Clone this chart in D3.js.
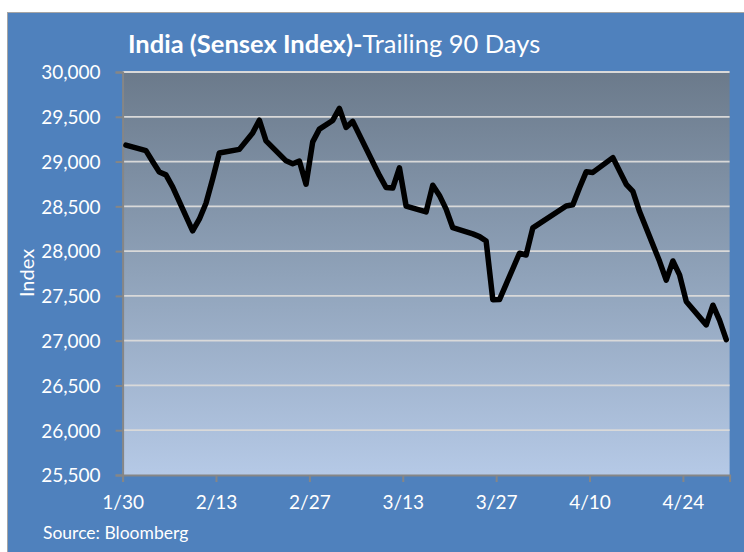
<!DOCTYPE html>
<html><head><meta charset="utf-8">
<script src="https://cdn.jsdelivr.net/npm/d3@7"></script>
<style>
html,body{margin:0;padding:0;background:#fff;}
svg{display:block;}
</style></head>
<body>
<svg id="c" width="744" height="552"></svg>
<script>
// ---- data ----
const dates = ["1/30","2/2","2/3","2/4","2/5","2/6","2/9","2/10","2/11","2/12","2/13","2/16","2/18","2/19","2/20",
"2/23","2/24","2/25","2/26","2/27","2/28","3/2","3/3","3/4","3/5","3/9","3/10","3/11","3/12","3/13",
"3/16","3/17","3/18","3/19","3/20","3/23","3/24","3/25","3/26","3/27","3/30","3/31","4/1",
"4/6","4/7","4/8","4/9","4/10","4/13","4/15","4/16","4/17","4/20","4/21","4/22","4/23","4/24",
"4/27","4/28","4/29","4/30"];
const values = [29183,29122,29000,28883,28851,28718,28227,28356,28534,28805,29095,29136,29320,29462,29231,
29008,28975,29005,28747,29220,29362,29459,29594,29381,29449,28845,28710,28704,28930,28503,
28438,28736,28622,28469,28261,28192,28162,28112,27458,27459,27976,27957,28260,
28504,28517,28708,28885,28879,29044,28746,28666,28442,27886,27676,27890,27734,27438,
27176,27396,27226,27011];
const xTickLabels = ["1/30","2/13","2/27","3/13","3/27","4/10","4/24"];
const yTicks = [25500,26000,26500,27000,27500,28000,28500,29000,29500,30000];
const year = 2015;
const axisStart = "1/30", axisEnd = "5/1";

// ---- layout ----
const parse = s => d3.timeParse("%m/%d/%Y")(s + "/" + year);
const L = 122.6, R = 729.6, T = 72, B = 475;
const FONT = "Lato, 'Open Sans', sans-serif";
const svg = d3.select("#c");

// panel background
svg.append("rect").attr("x",7.5).attr("y",12.5).attr("width",740).attr("height",545)
  .attr("fill","#4f81bd").attr("stroke","#a5a5a5").attr("stroke-width",1);

const defs = svg.append("defs");
const grad = defs.append("linearGradient").attr("id","pg").attr("x1",0).attr("y1",0).attr("x2",0).attr("y2",1);
grad.append("stop").attr("offset","0%").attr("stop-color","#6b7a8b");
grad.append("stop").attr("offset","50%").attr("stop-color","#8fa2b9");
grad.append("stop").attr("offset","100%").attr("stop-color","#b5c9e6");

const x = d3.scaleTime().domain([parse(axisStart), parse(axisEnd)]).range([L, R]);
const y = d3.scaleLinear().domain([25500, 30000]).range([B, T]);

svg.append("rect").attr("x",L).attr("y",T).attr("width",R-L).attr("height",B-T).attr("fill","url(#pg)");

// gridlines
svg.append("g").selectAll("line").data(yTicks.filter(v=>v>25500)).join("line")
  .attr("x1",L).attr("x2",R).attr("y1",d=>y(d)).attr("y2",d=>y(d))
  .attr("stroke","#d9d9d9").attr("stroke-width",1.8);

// y axis
const yAxis = svg.append("g").attr("transform",`translate(${L},0)`)
  .call(d3.axisLeft(y).tickValues(yTicks).tickFormat(d3.format(",")).tickSize(7).tickPadding(15));
yAxis.select(".domain").attr("stroke","#868686").attr("stroke-width",2);
yAxis.selectAll(".tick line").attr("stroke","#868686").attr("stroke-width",2);
yAxis.selectAll(".tick text").attr("fill","#fff").attr("font-family",FONT).attr("font-size",19).attr("dy","0.36em");

// x axis
const xAxis = svg.append("g").attr("transform",`translate(0,${B})`)
  .call(d3.axisBottom(x).tickValues(xTickLabels.map(parse)).tickFormat(d=>xTickLabels[xTickLabels.findIndex(s=>+parse(s)===+d)]).tickSize(7).tickPadding(14));
xAxis.select(".domain").attr("stroke","#868686").attr("stroke-width",2);
xAxis.selectAll(".tick line").attr("stroke","#868686").attr("stroke-width",2);
xAxis.selectAll(".tick text").attr("fill","#fff").attr("font-family",FONT).attr("font-size",19);

// line
const pts = dates.map((d,i)=>({d: d3.timeHour.offset(parse(d),12), v: values[i]}));
svg.append("path").datum(pts)
  .attr("d", d3.line().x(p=>x(p.d)).y(p=>y(p.v)))
  .attr("fill","none").attr("stroke","#000").attr("stroke-width",5.5)
  .attr("stroke-linejoin","round").attr("stroke-linecap","round");

// title
const title = svg.append("text").attr("x",128).attr("y",53).attr("fill","#fff")
  .attr("font-family",FONT).attr("font-size",25.5);
title.append("tspan").attr("font-weight","bold").text("India (Sensex Index)-");
title.append("tspan").text("Trailing 90 Days");

// y label
svg.append("text").attr("transform","translate(34,273) rotate(-90)").attr("text-anchor","middle")
  .attr("fill","#fff").attr("font-family",FONT).attr("font-size",20).text("Index");

// source
svg.append("text").attr("x",43).attr("y",539).attr("fill","#fff")
  .attr("font-family",FONT).attr("font-size",17.5).text("Source: Bloomberg");
</script>
</body></html>
